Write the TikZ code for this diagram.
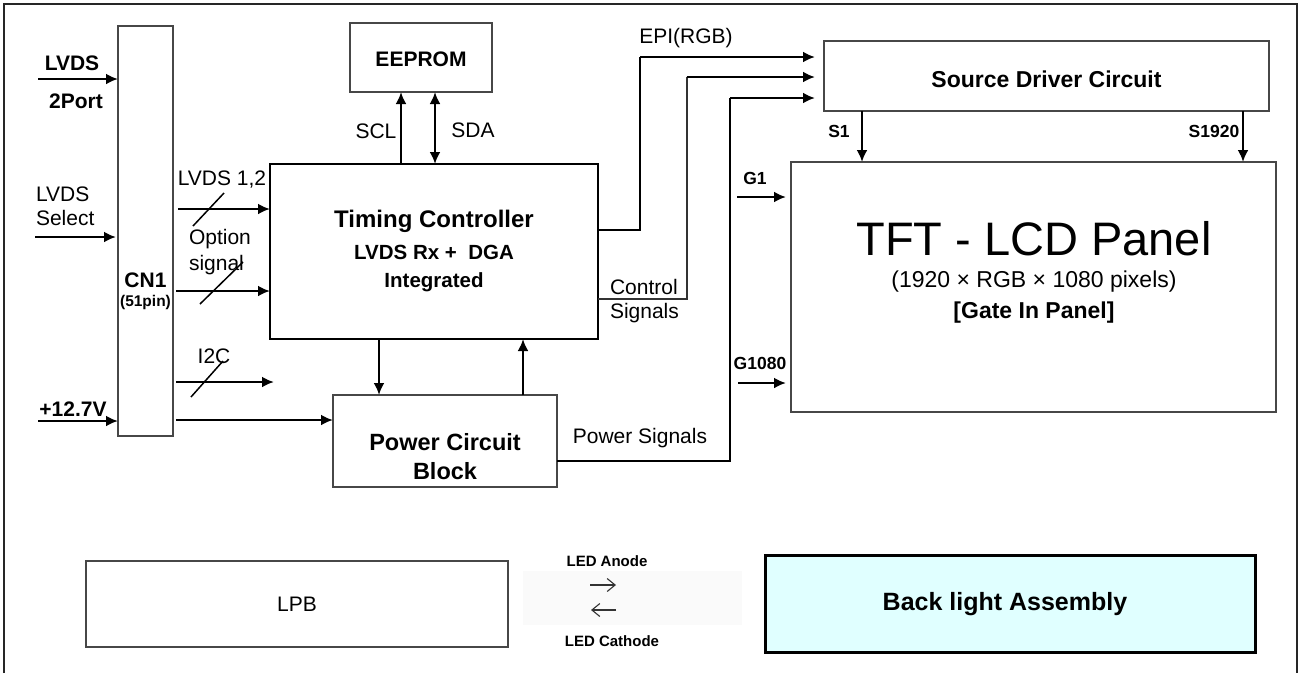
\documentclass[tikz,border=0pt]{standalone}
\usepackage{fontspec}
\setmainfont{Liberation Sans}
\usetikzlibrary{arrows.meta}
\begin{document}
\begin{tikzpicture}[x=1pt,y=-1pt,
  every node/.style={inner sep=0pt,outer sep=0pt},
  rf/.style={font=\fontsize{21}{25}\selectfont},
  bf/.style={font=\fontsize{21}{25}\selectfont\bfseries},
  sbf/.style={font=\fontsize{17.5}{20}\selectfont\bfseries},
  graybox/.style={draw=black!72,line width=1.4pt,minimum width=#1},
  blackbox/.style={draw=black,line width=2.5pt},
  arr/.style={line width=2.5pt,-{Latex[length=12pt,width=11pt]}},
  darr/.style={line width=2.5pt,{Latex[length=12pt,width=11pt]}-{Latex[length=12pt,width=11pt]}},
  thinline/.style={line width=1.6pt,black!80},
  wire/.style={line width=2.5pt},
  slash/.style={line width=1.5pt},
  ledarr/.style={line width=1.1pt,black!80,-{Straight Barb[length=8pt,width=13pt,line width=1.1pt]}}
]
\useasboundingbox (0,0) rectangle (1306,673);
\fill[white] (0,0) rectangle (1306,673);
% frame
\draw[line width=2.2pt,black!85] (4,673) -- (4,4) -- (1297,4) -- (1297,673);

% ---------- boxes ----------
\node[graybox=55pt,minimum height=410pt] (cn1) at (145.5,231) {};
\node[blackbox,minimum width=328pt,minimum height=175pt] (tc) at (434,251.5) {};
\node[graybox=142pt,minimum height=69pt] (ee) at (421,57.5) {};
\node[graybox=224pt,minimum height=92pt] (pw) at (445,441) {};
\node[graybox=445pt,minimum height=70pt] (sd) at (1046.5,76) {};
\node[graybox=485pt,minimum height=250pt] (tft) at (1033.5,287) {};
\node[graybox=422pt,minimum height=86pt] (lpb) at (297,604) {};
\fill[black!2] (523,571) rectangle (742,625);
\node[draw=black,line width=3pt,fill={rgb,255:red,224;green,255;blue,255},minimum width=490pt,minimum height=97pt] (bl) at (1010,604) {};

% ---------- box texts ----------
\node[bf] (cn1t) at (145.5,280) {CN1};
\node[font=\fontsize{15.5}{18}\selectfont\bfseries] (cn1p) at (145.5,302) {(51pin)};
\node[font=\fontsize{24}{28}\selectfont\bfseries] (tct1) at (434,221) {Timing Controller};
\node[font=\fontsize{20.5}{24}\selectfont\bfseries] (tct2) at (434,252) {LVDS Rx +\ \ DGA};
\node[font=\fontsize{20.5}{24}\selectfont\bfseries] (tct3) at (434,282) {Integrated};
\node[bf] (eet) at (421,59) {EEPROM};
\node[font=\fontsize{23.5}{27}\selectfont\bfseries] (pwt1) at (445,442) {Power Circuit};
\node[font=\fontsize{23.5}{27}\selectfont\bfseries] (pwt2) at (445,471) {Block};
\node[font=\fontsize{23}{27}\selectfont\bfseries] (sdt) at (1046.5,79) {Source Driver Circuit};
\node[font=\fontsize{47}{52}\selectfont] (tftt1) at (1034,239) {TFT - LCD Panel};
\node[font=\fontsize{23}{27}\selectfont] (tftt2) at (1034,282) {(1920 × RGB × 1080 pixels)};
\node[font=\fontsize{23}{27}\selectfont\bfseries] (tftt3) at (1034,313) {[Gate In Panel]};
\node[rf] (lpbt) at (297,604) {LPB};
\node[font=\fontsize{25}{29}\selectfont\bfseries] (blt) at (1005,604) {Back light Assembly};

% ---------- inputs to CN1 ----------
\node[bf] (lv1) at (72,63) {LVDS};
\node[bf] (lv2) at (76,101) {2Port};
\coordinate (in1) at (38,79);
\draw[arr] (in1) -- (in1 -| cn1.west);
\node[rf,anchor=west] (sel1) at (36,194) {LVDS};
\node[rf,anchor=west] (sel2) at (36,218) {Select};
\coordinate (in2) at (35,237);
\draw[arr] (in2) -- ([xshift=-2pt]in2 -| cn1.west);
\node[bf] (v12) at (73,409) {+12.7V};
\coordinate (in3) at (38,421);
\draw[arr] (in3) -- (in3 -| cn1.west);

% ---------- CN1 to TC / power ----------
\node[rf] (l12) at (222,180) {LVDS 1,2};
\coordinate (o1) at (178,209);
\draw[arr] (o1) -- (o1 -| tc.west);
\draw[slash] (193,226) -- (224,193);
\node[rf,anchor=west] (op1) at (189,239) {Option};
\node[rf,anchor=west] (op2) at (189,265) {signal};
\coordinate (o2) at (176,291);
\draw[arr] (o2) -- (o2 -| tc.west);
\draw[slash] (200,304) -- (243,262);
\node[rf] (i2c) at (214,356) {I2C};
\coordinate (o3) at (176,382);
\coordinate (o3e) at (274,382);
\draw[arr] (o3) -- (o3e);
\draw[slash] (191,397) -- (223,361);
\coordinate (o4) at (176,420);
\draw[arr] (o4) -- (o4 -| pw.west);

% ---------- EEPROM ----------
\draw[arr] ([xshift=-33pt]tc.north) -- ([xshift=-33pt]tc.north |- ee.south);
\draw[darr] ([xshift=1pt]tc.north) -- ([xshift=1pt]tc.north |- ee.south);
\node[rf] (scl) at (376,131) {SCL};
\node[rf] (sda) at (473,130) {SDA};

% ---------- TC <-> power ----------
\draw[arr] ([xshift=-55pt]tc.south) -- ([xshift=-55pt]tc.south |- pw.north);
\draw[arr] ([xshift=89pt]tc.south |- pw.north) -- ([xshift=89pt]tc.south);

% ---------- to source driver ----------
\draw[wire] (tc.east |- 0,230) -- (640,230) -- (640,57);
\draw[arr,shorten >=9pt] (640,57) -- (sd.west |- 0,57);
\node[rf] (epi) at (686,38) {EPI(RGB)};
\draw[thinline] (tc.east |- 0,299) -- (687,299) -- (687,77);
\draw[arr,shorten >=9pt] (686.5,77) -- (sd.west |- 0,77);
\node[rf,anchor=west] (ct1) at (610,287) {Control};
\node[rf,anchor=west] (ct2) at (610,313) {Signals};
\draw[wire] (pw.east |- 0,461) -- (730,461) -- (730,98);
\draw[arr,shorten >=9pt] (730,98) -- (sd.west |- 0,98);
\node[rf] (pws) at (640,438) {Power Signals};

% ---------- source driver to panel ----------
\draw[arr] (sd.south -| 862,0) -- (tft.north -| 862,0);
\draw[arr] (sd.south -| 1243,0) -- (tft.north -| 1243,0);
\node[sbf] (s1) at (839,131) {S1};
\node[sbf] (s1920) at (1214,131) {S1920};

% ---------- gate lines ----------
\node[sbf] (g1) at (755,178) {G1};
\coordinate (g1s) at (737,197);
\draw[arr,shorten >=5pt] (g1s) -- (g1s -| tft.west);
\node[sbf] (g1080) at (760,363) {G1080};
\coordinate (g2s) at (738,383);
\draw[arr,shorten >=5pt] (g2s) -- (g2s -| tft.west);

% ---------- LED ----------
\node[font=\fontsize{15}{18}\selectfont\bfseries] (ledA) at (607,561) {LED Anode};
\node[font=\fontsize{15}{18}\selectfont\bfseries] (ledC) at (612,641) {LED Cathode};
\coordinate (la1) at (590,585);
\coordinate (la2) at (616,585);
\draw[ledarr] (la1) -- (la2);
\coordinate (lc1) at (616,610);
\coordinate (lc2) at (591,610);
\draw[ledarr] (lc1) -- (lc2);
\end{tikzpicture}
\end{document}
